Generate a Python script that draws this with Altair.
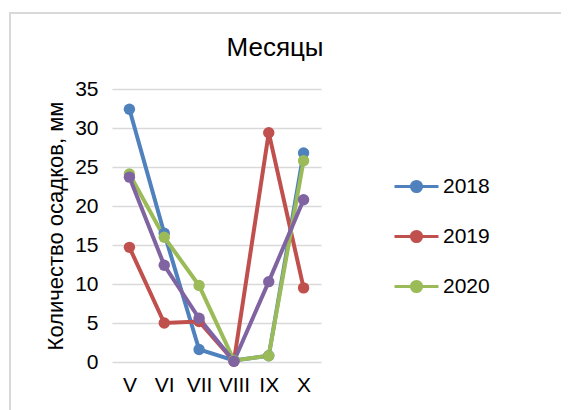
import altair as alt
import pandas as pd

months = ["V", "VI", "VII", "VIII", "IX", "X"]
series_names = ["2018", "2019", "2020", "Среднее"]
v2018 = [32.4, 16.5, 1.6, 0.2, 0.8, 26.8]
v2019 = [14.7, 5.0, 5.2, 0.1, 29.4, 9.5]
v2020 = [24.1, 16.0, 9.8, 0.2, 0.8, 25.8]
vavg = [23.7, 12.4, 5.6, 0.1, 10.3, 20.8]
colors = ["#4F81BD", "#C0504D", "#9BBB59", "#8064A2"]
chart_title = "Месяцы"

rows = []
for name, vals in zip(series_names, [v2018, v2019, v2020, vavg]):
    for i, (m, v) in enumerate(zip(months, vals)):
        rows.append({"Месяц": m, "Год": name, "Осадки": v, "ord": i})
df = pd.DataFrame(rows)

FONT = "Liberation Sans"
sym_path = "M-1,0H1M0.23,0A0.23,0.23 0 1,1 -0.23,0A0.23,0.23 0 1,1 0.23,0Z"

legend = alt.Legend(
    values=["2018", "2019", "2020"],
    title=None,
    orient="none",
    legendX=281,
    legendY=74,
    symbolType=sym_path,
    symbolSize=1936,
    symbolStrokeWidth=3,
    labelFont=FONT,
    labelFontSize=21,
    labelColor="#000000",
    labelOffset=3,
    rowPadding=15,
)
scale = alt.Scale(domain=series_names, range=colors)
color = alt.Color("Год:N", scale=scale, legend=legend)

x = alt.X("Месяц:N", sort=months,
          scale=alt.Scale(paddingInner=0, paddingOuter=0.5),
          axis=alt.Axis(title=None, labelAngle=0, ticks=False, domain=False,
                        labelFont=FONT, labelFontSize=21, labelColor="#000000",
                        labelPadding=12, zindex=0))
y = alt.Y("Осадки:Q", scale=alt.Scale(domain=[0, 35]),
          axis=alt.Axis(title="Количество осадков, мм", values=[0, 5, 10, 15, 20, 25, 30, 35],
                        ticks=False, domain=False, grid=True, gridColor="#D9D9D9", gridWidth=1.5,
                        labelFont=FONT, labelFontSize=21, labelColor="#000000", labelPadding=14,
                        titleFont=FONT, titleFontSize=22, titleFontWeight="normal",
                        titleColor="#000000", titlePadding=7, zindex=0))

frame = alt.Chart(pd.DataFrame({"a": [0]})).mark_rect(
    fill="transparent", stroke="#D9D9D9", strokeWidth=2, clip=False
).encode(x=alt.value(-102), x2=alt.value(520), y=alt.value(-76), y2=alt.value(400))

title = alt.Chart(pd.DataFrame({"t": [chart_title]})).mark_text(
    font=FONT, fontSize=26, color="#000000", align="center", baseline="middle"
).encode(text="t:N", x=alt.value(163), y=alt.value(-41))

lines = alt.Chart(df).mark_line(strokeWidth=4).encode(
    x=x, y=y, color=color, detail="Год:N", order="ord:Q"
)
points = alt.Chart(df).mark_point(filled=True, size=130, opacity=1).encode(
    x=x, y=y, color=color,
)

chart = alt.layer(frame, title, lines, points).properties(
    width=209, height=273,
    autosize=alt.AutoSizeParams(type="none"),
    padding={"left": 104, "top": 81, "right": 240, "bottom": 48},
).configure_view(stroke=None)

chart.save("out.html", embed_options={"renderer": "svg", "actions": False})
